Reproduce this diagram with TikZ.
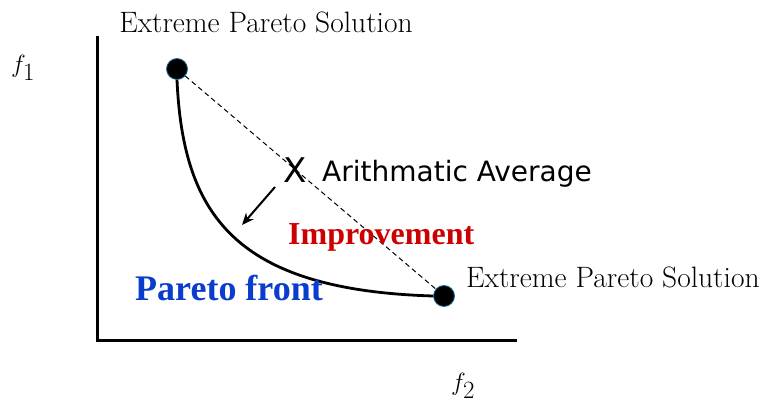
\documentclass[tikz,border=0pt]{standalone}
\usepackage{fontspec}
\newfontfamily\sansf{DejaVu Sans}
\newfontfamily\serifb{Liberation Serif}
\usetikzlibrary{arrows.meta}
\definecolor{impred}{RGB}{204,0,0}
\definecolor{parblue}{RGB}{10,60,205}
\definecolor{dotedge}{RGB}{30,110,150}
\tikzset{
  axis/.style={line width=3pt},
  extremedot/.style={circle,fill=black,draw=dotedge,line width=0.8pt,minimum size=21pt,inner sep=0pt},
  lbl/.style={font=\fontsize{29.5}{34}\selectfont,inner sep=0pt},
  front/.style={line width=2.8pt},
}
\begin{document}
\begin{tikzpicture}[x=1pt,y=-1pt]
\useasboundingbox (0,0) rectangle (759,403);
\coordinate (ytop) at (97,36);
\coordinate (orig) at (97,340);
\coordinate (xend) at (517,340);
\draw[axis] (ytop) -- (orig) -- (xend);
\node[inner sep=0pt,font=\fontsize{34}{38}\selectfont] (f1) at (23,68) {$f_1$};
\node[inner sep=0pt,font=\fontsize{34}{38}\selectfont] (f2) at (463,386) {$f_2$};
\node[extremedot] (p1) at (177,69) {};
\node[extremedot] (p2) at (444,296) {};
\draw[dash pattern=on 5pt off 3.5pt,line width=1pt] (p1) -- (p2);
\draw[front] (p1.south) .. controls (183,215) and (235,290) .. (p2.west);
\node[lbl] (t1) at (266,22) {Extreme Pareto Solution};
\node[lbl,anchor=west] (t2) at (466,277) {Extreme Pareto Solution};
\node[inner sep=0pt,font=\sansf\fontsize{34}{38}\selectfont] (x) at (295,170) {X};
\node[inner sep=0pt,anchor=west,font=\sansf\fontsize{28}{32}\selectfont] (avg) at (322,174) {Arithmatic Average};
\coordinate (a1) at (275,187);
\coordinate (a2) at (242,225);
\draw[-{Stealth[length=12pt,width=10pt]},line width=2pt] (a1) -- (a2);
\node[inner sep=0pt,anchor=west,text=impred,font=\serifb\bfseries\fontsize{32}{36}\selectfont] (imp) at (288,237) {Improvement};
\node[inner sep=0pt,anchor=west,text=parblue,font=\serifb\bfseries\fontsize{36}{40}\selectfont] (pf) at (135,288) {Pareto front};
\end{tikzpicture}
\end{document}
